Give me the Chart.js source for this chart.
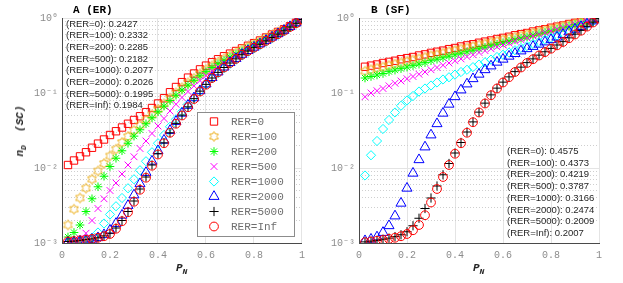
<!DOCTYPE html>
<html><head><meta charset="utf-8">
<script src="https://cdn.jsdelivr.net/npm/chart.js@4.4.1/dist/chart.umd.min.js"></script>
<style>
html,body{margin:0;padding:0;background:#fff;width:623px;height:283px;overflow:hidden}
body{position:relative}
canvas{position:absolute;top:0}
#ca{left:0}
#cb{left:311px}
.lbl{position:absolute;white-space:nowrap;color:#262626}
.ann{font-family:"Liberation Sans",Arial,sans-serif;font-size:9.5px;line-height:11.7px}
.ttl{font-family:"Liberation Mono",monospace;font-weight:bold;font-size:11px;line-height:13px;color:#000}
.axt{font-family:"Liberation Mono",monospace;font-style:italic;font-weight:bold;font-size:11px;line-height:13px}
.axt sub{font-size:8px;vertical-align:-3px}
.ylab{transform:translate(-50%,-50%) rotate(-90deg)}
</style>
</head><body>
<canvas id="ca" width="311" height="283"></canvas>
<canvas id="cb" width="312" height="283"></canvas>
<div class="lbl ttl" style="left:73px;top:4px">A (ER)</div>
<div class="lbl ttl" style="left:371px;top:4px">B (SF)</div>
<div class="lbl axt" style="left:176px;top:262px">P<sub>N</sub></div>
<div class="lbl axt" style="left:473px;top:262px">P<sub>N</sub></div>
<div class="lbl axt ylab" style="left:22px;top:131px">n<sub>D</sub>&nbsp;&nbsp;(SC)</div>
<div id="annA" class="lbl ann" style="left:66px;top:17.5px"></div>
<div id="annB" class="lbl ann" style="left:507px;top:145px"></div>
<script>
// ---------------- data ----------------
const pN = [0.025,0.05,0.075,0.1,0.125,0.15,0.175,0.2,0.225,0.25,
            0.275,0.3,0.325,0.35,0.375,0.4,0.425,0.45,0.475,0.5,
            0.525,0.55,0.575,0.6,0.625,0.65,0.675,0.7,0.725,0.75,
            0.775,0.8,0.825,0.85,0.875,0.9,0.925,0.95,0.975,1.0];
const rerNames = ['0','100','200','500','1000','2000','5000','Inf'];
const erScores = ['0.2427','0.2332','0.2285','0.2182','0.2077','0.2026','0.1995','0.1984'];
const sfScores = ['0.4575','0.4373','0.4219','0.3787','0.3166','0.2474','0.2009','0.2007'];
const yTickValues = [0.001,0.01,0.1,1];
const yTickLabels = ['10\u207B\u00B3','10\u207B\u00B2','10\u207B\u00B9','10\u2070'];

// log10(n_D), panel A (ER)
const erLogRer0 = [-1.96,-1.90,-1.845,-1.79,-1.73,-1.675,-1.62,-1.56,-1.51,-1.46,
  -1.41,-1.36,-1.31,-1.255,-1.20,-1.14,-1.07,-0.99,-0.92,-0.855,
  -0.795,-0.74,-0.685,-0.635,-0.59,-0.55,-0.51,-0.475,-0.44,-0.405,
  -0.37,-0.335,-0.30,-0.26,-0.22,-0.185,-0.15,-0.11,-0.065,-0.02];
const erLogRer100 = [-2.76,-2.55,-2.40,-2.27,-2.15,-2.04,-1.94,-1.84,-1.75,-1.66,
  -1.58,-1.50,-1.43,-1.36,-1.29,-1.22,-1.145,-1.07,-1.00,-0.93,
  -0.865,-0.805,-0.745,-0.69,-0.64,-0.59,-0.545,-0.505,-0.465,-0.425,
  -0.385,-0.35,-0.31,-0.27,-0.23,-0.19,-0.155,-0.115,-0.07,-0.02];
const erLogRer200 = [-2.92,-2.86,-2.76,-2.58,-2.41,-2.25,-2.11,-1.98,-1.87,-1.77,
  -1.67,-1.575,-1.49,-1.41,-1.33,-1.25,-1.175,-1.10,-1.03,-0.96,
  -0.895,-0.83,-0.77,-0.715,-0.66,-0.61,-0.565,-0.52,-0.48,-0.44,
  -0.40,-0.36,-0.32,-0.28,-0.24,-0.20,-0.16,-0.12,-0.07,-0.02];
const erLogRer500 = [-2.99,-2.97,-2.94,-2.87,-2.70,-2.54,-2.41,-2.30,-2.20,-2.08,
  -1.96,-1.85,-1.74,-1.64,-1.54,-1.44,-1.34,-1.24,-1.15,-1.06,
  -0.98,-0.905,-0.835,-0.77,-0.71,-0.655,-0.605,-0.555,-0.505,-0.46,
  -0.415,-0.375,-0.335,-0.29,-0.25,-0.21,-0.165,-0.12,-0.07,-0.02];
const erLogRer1000 = [-3.00,-2.99,-2.98,-2.96,-2.93,-2.86,-2.74,-2.62,-2.51,-2.40,
  -2.27,-2.15,-2.03,-1.91,-1.79,-1.67,-1.56,-1.45,-1.35,-1.25,
  -1.15,-1.06,-0.97,-0.885,-0.805,-0.735,-0.67,-0.61,-0.555,-0.50,
  -0.45,-0.405,-0.36,-0.315,-0.27,-0.225,-0.175,-0.125,-0.075,-0.02];
const erLogRer2000 = [-2.99,-2.985,-2.975,-2.965,-2.95,-2.93,-2.89,-2.83,-2.74,-2.63,
  -2.50,-2.36,-2.21,-2.06,-1.91,-1.77,-1.63,-1.50,-1.38,-1.27,
  -1.165,-1.065,-0.97,-0.88,-0.795,-0.72,-0.655,-0.595,-0.54,-0.485,
  -0.435,-0.39,-0.345,-0.30,-0.255,-0.21,-0.165,-0.115,-0.065,-0.015];
const erLogRer5000 = [-2.98,-2.975,-2.965,-2.955,-2.945,-2.93,-2.905,-2.87,-2.80,-2.70,
  -2.58,-2.44,-2.28,-2.12,-1.96,-1.81,-1.665,-1.53,-1.405,-1.295,
  -1.185,-1.075,-0.975,-0.885,-0.80,-0.725,-0.66,-0.60,-0.545,-0.49,
  -0.44,-0.395,-0.35,-0.305,-0.26,-0.215,-0.17,-0.12,-0.07,-0.02];
const erLogRerInf = [-2.98,-2.975,-2.965,-2.955,-2.945,-2.93,-2.91,-2.88,-2.81,-2.71,
  -2.59,-2.45,-2.29,-2.13,-1.97,-1.82,-1.67,-1.53,-1.41,-1.30,
  -1.19,-1.08,-0.98,-0.89,-0.80,-0.725,-0.66,-0.60,-0.545,-0.49,
  -0.44,-0.395,-0.35,-0.305,-0.26,-0.215,-0.17,-0.12,-0.07,-0.02];

// log10(n_D), panel B (SF)
const sfLogRer0 = [-0.65,-0.635,-0.62,-0.60,-0.585,-0.57,-0.55,-0.535,-0.52,-0.50,
  -0.485,-0.465,-0.45,-0.435,-0.415,-0.40,-0.38,-0.365,-0.35,-0.33,
  -0.315,-0.30,-0.28,-0.265,-0.25,-0.23,-0.215,-0.20,-0.18,-0.165,
  -0.15,-0.13,-0.115,-0.10,-0.08,-0.065,-0.05,-0.03,-0.015,-0.005];
const sfLogRer100 = [-0.71,-0.69,-0.67,-0.655,-0.635,-0.615,-0.60,-0.58,-0.56,-0.545,
  -0.525,-0.505,-0.49,-0.47,-0.45,-0.435,-0.415,-0.40,-0.38,-0.36,
  -0.345,-0.325,-0.31,-0.29,-0.275,-0.255,-0.24,-0.22,-0.20,-0.185,
  -0.165,-0.15,-0.13,-0.11,-0.095,-0.075,-0.055,-0.04,-0.02,-0.005];
const sfLogRer200 = [-0.80,-0.78,-0.76,-0.74,-0.715,-0.695,-0.675,-0.655,-0.635,-0.615,
  -0.595,-0.57,-0.55,-0.53,-0.51,-0.49,-0.47,-0.45,-0.43,-0.41,
  -0.39,-0.37,-0.35,-0.33,-0.31,-0.29,-0.27,-0.25,-0.23,-0.21,
  -0.19,-0.17,-0.15,-0.13,-0.11,-0.085,-0.065,-0.045,-0.02,-0.005];
const sfLogRer500 = [-1.05,-1.00,-0.97,-0.94,-0.905,-0.87,-0.84,-0.81,-0.78,-0.75,
  -0.72,-0.69,-0.66,-0.63,-0.60,-0.57,-0.545,-0.515,-0.49,-0.46,
  -0.435,-0.41,-0.385,-0.36,-0.335,-0.31,-0.29,-0.265,-0.24,-0.22,
  -0.195,-0.175,-0.15,-0.13,-0.11,-0.085,-0.065,-0.04,-0.02,-0.005];
const sfLogRer1000 = [-2.10,-1.83,-1.64,-1.48,-1.36,-1.26,-1.17,-1.10,-1.04,-0.98,
  -0.94,-0.90,-0.86,-0.82,-0.79,-0.755,-0.72,-0.69,-0.655,-0.62,
  -0.59,-0.555,-0.52,-0.49,-0.46,-0.43,-0.40,-0.375,-0.345,-0.32,
  -0.29,-0.265,-0.235,-0.205,-0.175,-0.145,-0.11,-0.08,-0.04,-0.005];
const sfLogRer2000 = [-2.97,-2.95,-2.92,-2.86,-2.77,-2.64,-2.47,-2.27,-2.07,-1.89,
  -1.72,-1.56,-1.41,-1.27,-1.15,-1.05,-0.96,-0.88,-0.81,-0.75,
  -0.69,-0.64,-0.59,-0.55,-0.51,-0.475,-0.44,-0.41,-0.38,-0.35,
  -0.32,-0.29,-0.255,-0.22,-0.185,-0.15,-0.115,-0.08,-0.04,-0.005];
const sfLogRer5000 = [-2.985,-2.975,-2.965,-2.95,-2.935,-2.915,-2.89,-2.85,-2.77,-2.67,
  -2.54,-2.40,-2.24,-2.09,-1.94,-1.80,-1.66,-1.52,-1.385,-1.255,
  -1.135,-1.025,-0.935,-0.855,-0.785,-0.715,-0.655,-0.595,-0.545,-0.495,
  -0.45,-0.405,-0.36,-0.315,-0.265,-0.215,-0.165,-0.11,-0.055,-0.005];
const sfLogRerInf = [-2.99,-2.98,-2.97,-2.96,-2.945,-2.93,-2.91,-2.88,-2.83,-2.76,
  -2.63,-2.46,-2.28,-2.12,-1.96,-1.81,-1.67,-1.53,-1.39,-1.26,
  -1.14,-1.03,-0.94,-0.86,-0.79,-0.72,-0.66,-0.60,-0.55,-0.50,
  -0.455,-0.41,-0.365,-0.32,-0.27,-0.22,-0.17,-0.115,-0.06,-0.005];

const erSeries = [erLogRer0,erLogRer100,erLogRer200,erLogRer500,erLogRer1000,erLogRer2000,erLogRer5000,erLogRerInf];
const sfSeries = [sfLogRer0,sfLogRer100,sfLogRer200,sfLogRer500,sfLogRer1000,sfLogRer2000,sfLogRer5000,sfLogRerInf];

// ---------------- styles ----------------
function hexagram(color, R) {
  const s = Math.ceil(2 * R + 3);
  const c = document.createElement('canvas'); c.width = s; c.height = s;
  const g = c.getContext('2d');
  const cx = s / 2, cy = s / 2, r = R / Math.sqrt(3);
  g.beginPath();
  for (let k = 0; k < 12; k++) {
    const a = -Math.PI / 2 + k * Math.PI / 6;
    const rr = (k % 2 === 0) ? R : r;
    g.lineTo(cx + rr * Math.cos(a), cy + rr * Math.sin(a));
  }
  g.closePath(); g.strokeStyle = color; g.lineWidth = 1; g.stroke();
  return c;
}
const markerStyles = [
  {color:'#ff0000', style:'rect', r:5.2},
  {color:'#edb120', style:hexagram('#edb120', 5), r:5},
  {color:'#00ff00', style:'star', r:4.3},
  {color:'#ff00ff', style:'crossRot', r:4.8},
  {color:'#00ffff', style:'rectRot', r:4.6},
  {color:'#0000ff', style:'triangle', r:5.8},
  {color:'#000000', style:'cross', r:4.6},
  {color:'#ff0000', style:'circle', r:4.4}
];

function buildDatasets(series) {
  return series.map((logs, i) => ({
    label: 'RER=' + rerNames[i],
    data: pN.map((p, k) => ({x: p, y: Math.pow(10, logs[k])})),
    showLine: false,
    pointStyle: markerStyles[i].style,
    pointRadius: markerStyles[i].r,
    pointBorderColor: markerStyles[i].color,
    pointBackgroundColor: 'rgba(0,0,0,0)',
    pointBorderWidth: 1,
    order: 7 - i
  }));
}

const minorTicks = [];
[0.001, 0.01, 0.1].forEach(d => { for (let m = 2; m <= 9; m++) minorTicks.push(+(d * m).toPrecision(3)); });

const legendInBox = {
  id: 'legendInBox',
  afterDatasetsDraw(chart, args, opts) {
    if (!opts || !opts.display) return;
    const ctx = chart.ctx;
    ctx.save();
    ctx.fillStyle = '#ffffff';
    ctx.fillRect(opts.x, opts.y, opts.w, opts.h);
    ctx.strokeStyle = '#8c8c8c'; ctx.lineWidth = 1;
    ctx.strokeRect(opts.x + 0.5, opts.y + 0.5, opts.w, opts.h);
    ctx.font = '11px "Liberation Mono", monospace';
    ctx.textBaseline = 'middle'; ctx.textAlign = 'left';
    chart.data.datasets.forEach((ds, i) => {
      const cy = opts.firstY + i * opts.step;
      ctx.strokeStyle = ds.pointBorderColor;
      ctx.fillStyle = 'rgba(0,0,0,0)';
      ctx.lineWidth = ds.pointBorderWidth;
      Chart.helpers.drawPoint(ctx, {pointStyle: ds.pointStyle, radius: ds.pointRadius, rotation: 0, borderWidth: ds.pointBorderWidth}, opts.markerX, cy);
      ctx.fillStyle = '#6e6e6e';
      ctx.fillText(ds.label, opts.textX, cy + 0.5);
    });
    ctx.restore();
  }
};

function makeChart(id, series, yAxisWidth, padRight, legendOpts) {
  return new Chart(document.getElementById(id), {
    type: 'scatter',
    data: {datasets: buildDatasets(series)},
    plugins: [legendInBox],
    options: {
      responsive: false,
      animation: false,
      events: [],
      layout: {padding: {left: 0, right: padRight, top: 18, bottom: 0}},
      plugins: {legend: {display: false}, tooltip: {enabled: false}, legendInBox: legendOpts},
      scales: {
        x: {
          type: 'linear', min: 0, max: 1,
          ticks: {stepSize: 0.2, padding: 6, color: '#8c8c8c', font: {family: '"Liberation Mono", monospace', size: 10},
                  callback: v => String(+v.toFixed(1))},
          grid: {color: '#e4e4e4', lineWidth: 1, drawTicks: false},
          border: {display: true, color: '#4a4a4a', width: 1},
          afterFit: s => { s.height = 40; }
        },
        ym: {
          type: 'logarithmic', position: 'left', min: 0.001, max: 1,
          ticks: {display: false},
          grid: {color: '#cfcfcf', lineWidth: 1, drawTicks: false},
          border: {display: false, dash: [1, 2]},
          afterBuildTicks: s => { s.ticks = minorTicks.map(v => ({value: v})); },
          afterFit: s => { s.width = 0; }
        },
        y: {
          type: 'logarithmic', position: 'left', min: 0.001, max: 1,
          ticks: {padding: 4, color: '#8c8c8c', font: {family: '"Liberation Mono", monospace', size: 10},
                  callback: v => { const k = yTickValues.findIndex(t => Math.abs(t - v) < t * 1e-6); return k >= 0 ? yTickLabels[k] : ''; }},
          grid: {color: '#e4e4e4', lineWidth: 1, drawTicks: false},
          border: {display: true, color: '#4a4a4a', width: 1},
          afterBuildTicks: s => { s.ticks = yTickValues.map(v => ({value: v})); },
          afterFit: s => { s.width = yAxisWidth; }
        }
      }
    }
  });
}

makeChart('ca', erSeries, 62, 9, {display: true, x: 197, y: 112, w: 97, h: 124, markerX: 214, textX: 231, firstY: 121.5, step: 15});
makeChart('cb', sfSeries, 48, 24, {display: false});

document.getElementById('annA').innerHTML = rerNames.map((n, i) => '(RER=' + n + '): ' + erScores[i]).join('<br>');
document.getElementById('annB').innerHTML = rerNames.map((n, i) => '(RER=' + n + '): ' + sfScores[i]).join('<br>');
</script>
</body></html>
